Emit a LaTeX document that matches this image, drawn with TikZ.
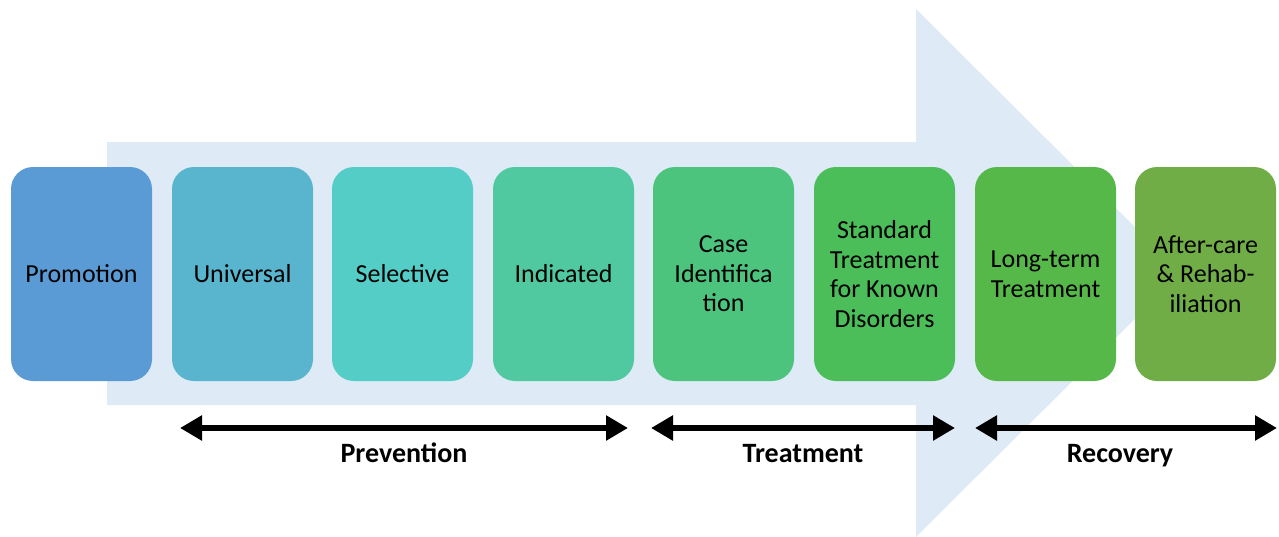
\documentclass[tikz,border=0pt]{standalone}
\usepackage{fontspec}
\setmainfont{Carlito}
\usetikzlibrary{arrows.meta}
\definecolor{bgarrow}{HTML}{DEEAF6}
\definecolor{cA}{HTML}{5B9BD5}
\definecolor{cB}{HTML}{59B5CE}
\definecolor{cC}{HTML}{55CDC7}
\definecolor{cD}{HTML}{50C9A0}
\definecolor{cE}{HTML}{4DC47E}
\definecolor{cF}{HTML}{4BBE5A}
\definecolor{cG}{HTML}{57B84A}
\definecolor{cH}{HTML}{70AD47}
\tikzset{
  stagebox/.style={rounded corners=22pt, minimum width=141pt, minimum height=214pt,
    inner sep=0pt, align=center, text=black,
    font=\fontsize{26}{29.5}\selectfont},
  span/.style={line width=6pt, {Triangle[length=22pt,width=24pt]}-{Triangle[length=22pt,width=24pt]}},
  spanlabel/.style={anchor=base, font=\bfseries\fontsize{28}{32}\selectfont}
}
\begin{document}
\begin{tikzpicture}[x=1pt,y=-1pt]
\useasboundingbox (0,0) rectangle (1279,536);
\begin{scope}
\clip (0,0) rectangle (1279,536);
\fill[bgarrow] (107,142) -- (916,142) -- (916,9) -- (1181,273) -- (916,537) -- (916,405) -- (107,405) -- cycle;
\end{scope}
\node[stagebox, fill=cA] (promo) at (81.5,274) {Promotion};
\node[stagebox, fill=cB] (univ) at (242.5,274) {Universal};
\node[stagebox, fill=cC] (sel) at (402.5,274) {Selective};
\node[stagebox, fill=cD] (ind) at (563.5,274) {Indicated};
\node[stagebox, fill=cE] (case) at (723.5,274) {Case\\Identifica\\tion};
\node[stagebox, fill=cF] (std) at (884.5,274) {Standard\\Treatment\\for Known\\Disorders};
\node[stagebox, fill=cG] (long) at (1045.5,274) {Long-term\\Treatment};
\node[stagebox, fill=cH] (after) at (1205.5,274) {After-care\\\& Rehab-\\iliation};
\coordinate (p1) at (180,428);
\coordinate (p2) at (628,428);
\coordinate (t1) at (651,428);
\coordinate (t2) at (955,428);
\coordinate (r1) at (975,428);
\coordinate (r2) at (1277,428);
\draw[span] (p1) -- (p2);
\draw[span] (t1) -- (t2);
\draw[span] (r1) -- (r2);
\node[spanlabel] (prev) at (404,462) {Prevention};
\node[spanlabel] (treat) at (803,462) {Treatment};
\node[spanlabel] (recov) at (1120,462) {Recovery};
\end{tikzpicture}
\end{document}
